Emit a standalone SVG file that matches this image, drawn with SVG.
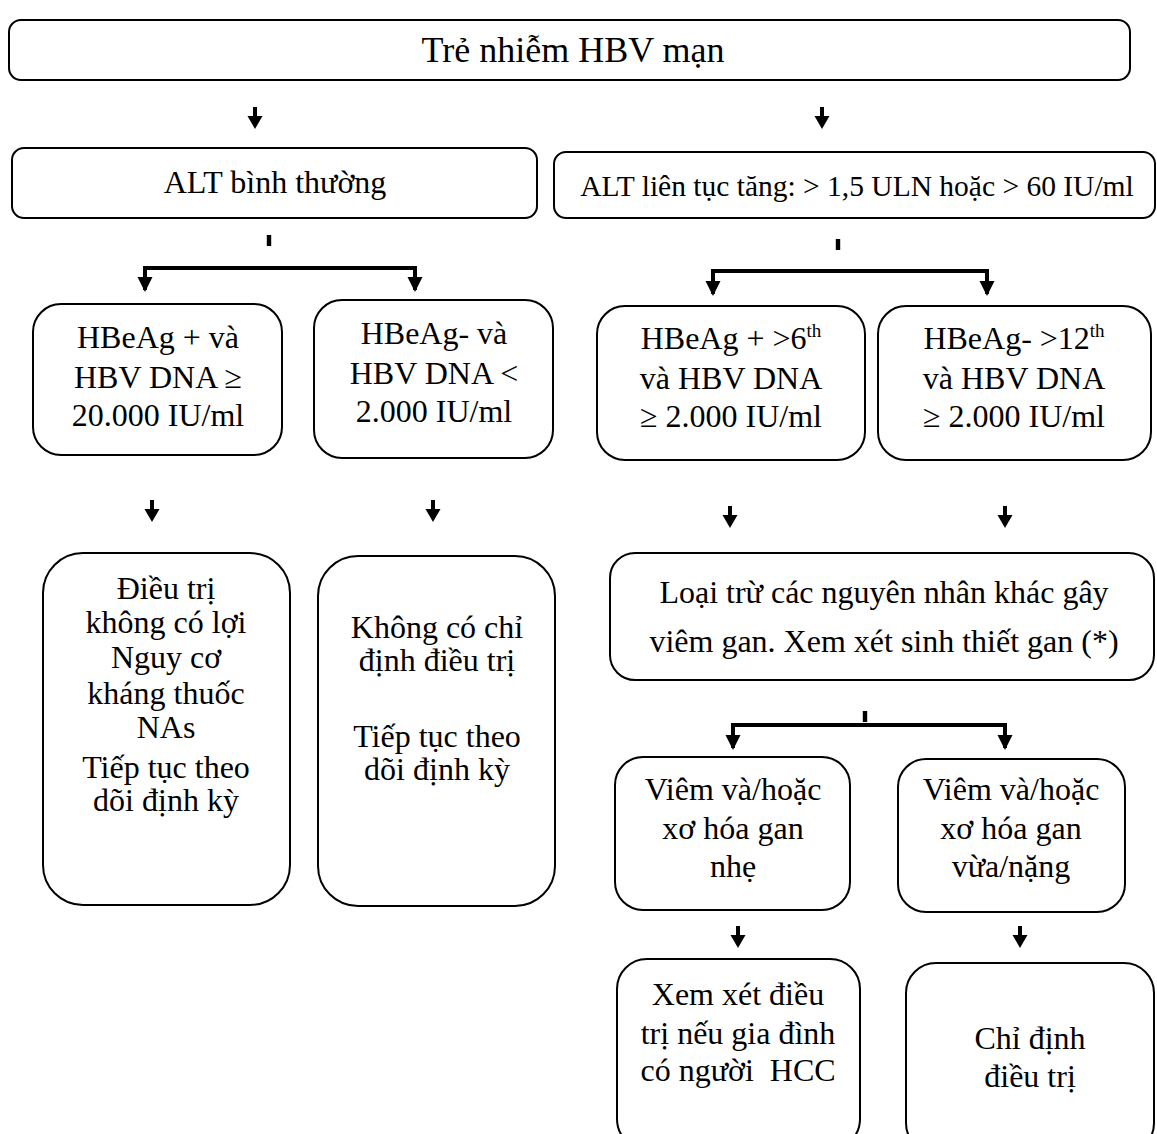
<svg xmlns="http://www.w3.org/2000/svg" width="1157" height="1134" viewBox="0 0 1157 1134">
<style>
.box{fill:#fff;stroke:#000;stroke-width:2}
.t{font-family:"Liberation Serif","Times New Roman",serif;font-size:32px;fill:#000;text-anchor:middle}
.big{font-size:36px}
.med{font-size:29.5px}
.sup{font-size:19px}
.c{stroke:#000;stroke-width:4;fill:none}
.h{fill:#000}
</style>
<defs>
<g id="arr"><rect x="-2" y="0" width="4" height="10" class="h"/><polygon points="-7.5,9 7.5,9 0,22" class="h"/></g>
<g id="tick"><rect x="-2.2" y="0" width="4.4" height="11" class="h"/></g>
</defs>
<rect width="1157" height="1134" fill="#fff"/>

<g id="connectors">
<use href="#arr" x="255" y="107"/>
<use href="#arr" x="822" y="107"/>
<use href="#tick" x="269" y="235"/>
<path class="c" d="M145,290 V268 H415 V290"/>
<polygon class="h" points="137.5,277 152.5,277 145,292"/>
<polygon class="h" points="407.5,277 422.5,277 415,292"/>
<use href="#tick" x="838" y="239"/>
<path class="c" d="M713,294 V271 H987 V294"/>
<polygon class="h" points="705.5,281 720.5,281 713,296"/>
<polygon class="h" points="979.5,281 994.5,281 987,296"/>
<use href="#arr" x="152" y="500"/>
<use href="#arr" x="433" y="500"/>
<use href="#arr" x="730" y="506"/>
<use href="#arr" x="1005" y="506"/>
<use href="#tick" x="865" y="711"/>
<path class="c" d="M733,748 V725 H1005 V748"/>
<polygon class="h" points="725.5,735 740.5,735 733,750"/>
<polygon class="h" points="997.5,735 1012.5,735 1005,750"/>
<use href="#arr" x="738" y="926"/>
<use href="#arr" x="1020" y="926"/>
</g>

<g id="n_root"><rect class="box" x="9" y="20" width="1121" height="60" rx="12"/>
<text class="t big" x="573" y="62">Trẻ nhiễm HBV mạn</text></g>

<g id="n_alt_normal"><rect class="box" x="12" y="148" width="525" height="70" rx="12"/>
<text class="t" x="275" y="193">ALT bình thường</text></g>

<g id="n_alt_high"><rect class="box" x="554" y="152" width="601" height="66" rx="12"/>
<text class="t med" x="857" y="196">ALT liên tục tăng: &gt; 1,5 ULN hoặc &gt; 60 IU/ml</text></g>

<g id="n_a"><rect class="box" x="33" y="304" width="249" height="151" rx="28"/>
<text class="t" x="158" y="348">HBeAg + và</text>
<text class="t" x="158" y="388">HBV DNA ≥</text>
<text class="t" x="158" y="426">20.000 IU/ml</text></g>

<g id="n_b"><rect class="box" x="314" y="300" width="239" height="158" rx="28"/>
<text class="t" x="434" y="344">HBeAg- và</text>
<text class="t" x="434" y="384">HBV DNA &lt;</text>
<text class="t" x="434" y="422">2.000 IU/ml</text></g>

<g id="n_c"><rect class="box" x="597" y="306" width="268" height="154" rx="28"/>
<text class="t" x="731" y="349">HBeAg + &gt;6<tspan class="sup" dy="-12">th</tspan></text>
<text class="t" x="731" y="389">và HBV DNA</text>
<text class="t" x="731" y="427">≥ 2.000 IU/ml</text></g>

<g id="n_d"><rect class="box" x="878" y="306" width="273" height="154" rx="28"/>
<text class="t" x="1014" y="349">HBeAg- &gt;12<tspan class="sup" dy="-12">th</tspan></text>
<text class="t" x="1014" y="389">và HBV DNA</text>
<text class="t" x="1014" y="427">≥ 2.000 IU/ml</text></g>

<g id="n_e"><rect class="box" x="43" y="553" width="247" height="352" rx="40"/>
<text class="t" x="166" y="599">Điều trị</text>
<text class="t" x="166" y="633">không có lợi</text>
<text class="t" x="166" y="668">Nguy cơ</text>
<text class="t" x="166" y="704">kháng thuốc</text>
<text class="t" x="166" y="738">NAs</text>
<text class="t" x="166" y="778">Tiếp tục theo</text>
<text class="t" x="166" y="811">dõi định kỳ</text></g>

<g id="n_f"><rect class="box" x="318" y="556" width="237" height="350" rx="40"/>
<text class="t" x="437" y="638">Không có chỉ</text>
<text class="t" x="437" y="671">định điều trị</text>
<text class="t" x="437" y="747">Tiếp tục theo</text>
<text class="t" x="437" y="780">dõi định kỳ</text></g>

<g id="n_g"><rect class="box" x="610" y="553" width="544" height="127" rx="25"/>
<text class="t" x="884" y="603">Loại trừ các nguyên nhân khác gây</text>
<text class="t" x="884" y="652">viêm gan. Xem xét sinh thiết gan (*)</text></g>

<g id="n_h"><rect class="box" x="615" y="757" width="235" height="153" rx="28"/>
<text class="t" x="733" y="800">Viêm và/hoặc</text>
<text class="t" x="733" y="839">xơ hóa gan</text>
<text class="t" x="733" y="877">nhẹ</text></g>

<g id="n_i"><rect class="box" x="898" y="759" width="227" height="153" rx="28"/>
<text class="t" x="1011" y="800">Viêm và/hoặc</text>
<text class="t" x="1011" y="839">xơ hóa gan</text>
<text class="t" x="1011" y="877">vừa/nặng</text></g>

<g id="n_j"><rect class="box" x="617" y="959" width="243" height="190" rx="30"/>
<text class="t" x="738" y="1005">Xem xét điều</text>
<text class="t" x="738" y="1044">trị nếu gia đình</text>
<text class="t" x="738" y="1081" xml:space="preserve">có người  HCC</text></g>

<g id="n_k"><rect class="box" x="906" y="963" width="248" height="190" rx="30"/>
<text class="t" x="1030" y="1049">Chỉ định</text>
<text class="t" x="1030" y="1087">điều trị</text></g>
</svg>
